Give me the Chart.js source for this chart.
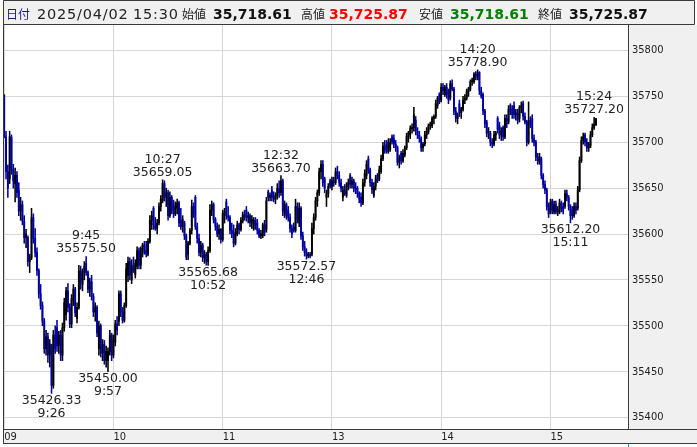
<!DOCTYPE html>
<html>
<head>
<meta charset="utf-8">
<script src="https://cdn.jsdelivr.net/npm/chart.js@4"></script>
<style>
  html, body { margin: 0; padding: 0; background: #fff; }
</style>
</head>
<body>
<canvas id="chart" width="697" height="447"></canvas>
<script>
// Nikkei 1-minute candles, 2025/04/02 (morning 9:00-11:29, afternoon 12:30-15:24, close 15:30)

const tradeDate = "2025/04/02";

const times = [];
function pushMinutes(start, end) {
  for (let m = start; m < end; m++) {
    times.push(Math.floor(m / 60) + ":" + String(m % 60).padStart(2, "0"));
  }
}
pushMinutes(9 * 60, 11 * 60 + 30);
pushMinutes(12 * 60 + 30, 15 * 60 + 25);
times.push("15:30");

const opens = [
  35751, 35706, 35668, 35660, 35705, 35670, 35655, 35664, 35648, 35625,
  35632, 35614, 35596, 35596, 35570, 35574, 35618, 35595, 35580, 35560,
  35535, 35522, 35505, 35475, 35488, 35468, 35478, 35435, 35490, 35498,
  35478, 35490, 35468, 35498, 35512, 35538, 35520, 35502, 35528, 35540,
  35508, 35520, 35560, 35545, 35558, 35568, 35558, 35540, 35548, 35532,
  35515, 35520, 35475, 35500, 35470, 35480, 35462, 35462, 35472, 35490,
  35468, 35482, 35502, 35505, 35535, 35515, 35506, 35522, 35555, 35570,
  35550, 35566, 35556, 35565, 35582, 35566, 35584, 35588, 35582, 35578,
  35592, 35615, 35628, 35610, 35606, 35612, 35630, 35636, 35655, 35640,
  35645, 35620, 35640, 35632, 35622, 35628, 35634, 35615, 35608, 35612,
  35598, 35578, 35590, 35604, 35630, 35640, 35608, 35595, 35580, 35588,
  35574, 35578, 35570, 35582, 35626, 35632, 35616, 35608, 35600, 35605,
  35594, 35622, 35635, 35620, 35618, 35604, 35600, 35590, 35600, 35610,
  35605, 35614, 35621, 35626, 35618, 35620, 35612, 35606, 35615, 35612,
  35604, 35598, 35598, 35610, 35605, 35646, 35640, 35648, 35640, 35638,
  35642, 35650, 35645, 35658, 35622, 35632, 35626, 35618, 35606, 35608,
  35604, 35630, 35612, 35628, 35598, 35586, 35580, 35576, 35578, 35578,
  35606, 35618, 35636, 35645, 35668, 35676, 35660, 35640, 35644, 35658,
  35652, 35658, 35656, 35668, 35664, 35656, 35640, 35648, 35642, 35652,
  35664, 35654, 35658, 35650, 35650, 35644, 35640, 35634, 35656, 35664,
  35682, 35670, 35656, 35642, 35652, 35664, 35660, 35668, 35682, 35696,
  35698, 35690, 35692, 35706, 35704, 35698, 35694, 35678, 35688, 35680,
  35686, 35694, 35706, 35708, 35715, 35716, 35724, 35712, 35708, 35704,
  35694, 35698, 35708, 35711, 35718, 35718, 35726, 35728, 35740, 35752,
  35746, 35760, 35752, 35760, 35756, 35748, 35764, 35758, 35734, 35726,
  35742, 35732, 35736, 35746, 35748, 35755, 35758, 35766, 35766, 35774,
  35770, 35776, 35756, 35752, 35734, 35722, 35710, 35710, 35700, 35698,
  35708, 35726, 35718, 35708, 35716, 35706, 35726, 35722, 35740, 35736,
  35740, 35730, 35732, 35726, 35738, 35742, 35728, 35722, 35700, 35724,
  35726, 35704, 35700, 35684, 35678, 35682, 35664, 35654, 35648, 35630,
  35624, 35636, 35624, 35632, 35624, 35624, 35634, 35630, 35630, 35644,
  35640, 35630, 35626, 35620, 35630, 35628, 35648, 35680, 35702, 35708,
  35700, 35694, 35696, 35708, 35716, 35718.61
];

const highs = [
  35752, 35712, 35675, 35712, 35708, 35676, 35672, 35668, 35656, 35640,
  35636, 35620, 35605, 35598, 35578, 35628, 35622, 35606, 35585, 35562,
  35545, 35526, 35508, 35495, 35492, 35485, 35480, 35495, 35500, 35506,
  35494, 35495, 35503, 35530, 35542, 35546, 35524, 35534, 35545, 35542,
  35525, 35566, 35565, 35562, 35570, 35575.5, 35560, 35552, 35555, 35535,
  35525, 35522, 35505, 35502, 35485, 35484, 35478, 35476, 35495, 35492,
  35490, 35506, 35510, 35538, 35538, 35520, 35525, 35568, 35575, 35574,
  35572, 35575, 35572, 35586, 35585, 35586, 35590, 35592, 35592, 35595,
  35620, 35625, 35630, 35618, 35616, 35634, 35642, 35659.05, 35658, 35650,
  35648, 35646, 35642, 35637, 35635, 35638, 35636, 35628, 35620, 35614,
  35600, 35592, 35606, 35637, 35634, 35642, 35612, 35600, 35592, 35590,
  35582, 35580, 35586, 35632, 35636, 35634, 35618, 35612, 35610, 35606,
  35626, 35628, 35638, 35630, 35620, 35612, 35610, 35606, 35614, 35612,
  35618, 35624, 35626, 35630, 35624, 35622, 35620, 35618, 35618, 35616,
  35606, 35604, 35612, 35615, 35640, 35648, 35645, 35652, 35646, 35645,
  35655, 35658, 35663.7, 35660, 35636, 35634, 35630, 35622, 35610, 35612,
  35638, 35634, 35634, 35630, 35602, 35592, 35584, 35580, 35580, 35612,
  35622, 35640, 35648, 35672, 35680, 35680, 35662, 35648, 35655, 35660,
  35662, 35662, 35672, 35674, 35668, 35660, 35652, 35654, 35656, 35660,
  35666, 35662, 35660, 35656, 35652, 35646, 35645, 35660, 35670, 35680,
  35685, 35672, 35660, 35656, 35664, 35666, 35674, 35686, 35700, 35702,
  35702, 35704, 35704, 35708, 35708, 35702, 35696, 35686, 35690, 35692,
  35696, 35710, 35712, 35718, 35720, 35738, 35728, 35716, 35712, 35706,
  35700, 35712, 35716, 35720, 35722, 35728, 35730, 35746, 35750, 35754,
  35764, 35764, 35762, 35764, 35758, 35767, 35768, 35760, 35738, 35732,
  35746, 35738, 35750, 35752, 35758, 35760, 35768, 35770, 35776, 35777,
  35778.9, 35777, 35760, 35754, 35736, 35724, 35716, 35712, 35704, 35712,
  35712, 35728, 35722, 35716, 35718, 35730, 35730, 35740, 35742, 35740,
  35744, 35736, 35736, 35740, 35744, 35745, 35732, 35724, 35744, 35728,
  35730, 35708, 35702, 35688, 35688, 35684, 35666, 35658, 35650, 35634,
  35638, 35638, 35636, 35636, 35630, 35638, 35636, 35634, 35648, 35648,
  35642, 35632, 35630, 35634, 35634, 35652, 35684, 35706, 35710, 35710,
  35704, 35700, 35712, 35720, 35727.2, 35725.87
];

const lows = [
  35705, 35660, 35640, 35655, 35665, 35650, 35635, 35640, 35620, 35615,
  35610, 35590, 35585, 35565, 35558, 35572, 35590, 35575, 35555, 35530,
  35518, 35500, 35470, 35468, 35460, 35455, 35426.33, 35432, 35470, 35472,
  35470, 35462, 35462, 35494, 35506, 35515, 35498, 35498, 35522, 35510,
  35503, 35518, 35540, 35538, 35550, 35555, 35536, 35532, 35528, 35510,
  35505, 35488, 35468, 35466, 35462, 35458, 35455, 35450, 35468, 35462,
  35465, 35478, 35490, 35500, 35510, 35503, 35504, 35520, 35548, 35550,
  35546, 35558, 35552, 35562, 35562, 35562, 35575, 35578, 35575, 35576,
  35590, 35605, 35605, 35604, 35600, 35610, 35625, 35634, 35636, 35630,
  35615, 35618, 35622, 35618, 35620, 35622, 35608, 35605, 35602, 35594,
  35572, 35572, 35588, 35600, 35618, 35605, 35590, 35576, 35575, 35570,
  35568, 35566, 35565.68, 35580, 35620, 35612, 35604, 35597, 35594, 35590,
  35592, 35612, 35616, 35614, 35600, 35596, 35586, 35588, 35598, 35600,
  35603, 35612, 35615, 35614, 35612, 35608, 35606, 35604, 35605, 35600,
  35596, 35595, 35596, 35598, 35602, 35636, 35636, 35636, 35635, 35633,
  35638, 35640, 35642, 35620, 35618, 35616, 35614, 35602, 35596, 35602,
  35602, 35612, 35608, 35594, 35582, 35576, 35572.57, 35574, 35574, 35576,
  35600, 35615, 35630, 35642, 35660, 35652, 35645, 35630, 35640, 35650,
  35648, 35652, 35654, 35660, 35652, 35646, 35636, 35642, 35640, 35648,
  35650, 35650, 35646, 35644, 35640, 35634, 35630, 35632, 35652, 35660,
  35666, 35652, 35644, 35640, 35648, 35656, 35658, 35666, 35680, 35688,
  35688, 35688, 35690, 35698, 35694, 35690, 35675, 35672, 35676, 35678,
  35684, 35692, 35700, 35704, 35710, 35712, 35708, 35704, 35700, 35690,
  35690, 35696, 35704, 35709, 35714, 35716, 35720, 35726, 35737, 35742,
  35744, 35752, 35750, 35748, 35742, 35746, 35756, 35730, 35722, 35720,
  35728, 35726, 35734, 35742, 35746, 35750, 35756, 35762, 35764, 35768,
  35768, 35752, 35748, 35730, 35716, 35706, 35704, 35696, 35694, 35696,
  35702, 35710, 35704, 35702, 35702, 35704, 35716, 35720, 35730, 35726,
  35726, 35724, 35720, 35722, 35732, 35724, 35720, 35696, 35698, 35716,
  35700, 35696, 35680, 35676, 35676, 35660, 35650, 35644, 35626, 35618,
  35622, 35622, 35622, 35622, 35620, 35622, 35624, 35622, 35628, 35636,
  35626, 35612.2, 35616, 35618, 35622, 35626, 35646, 35678, 35698, 35696,
  35690, 35690, 35694, 35706, 35714, 35718.61
];

const closes = [
  35706, 35668, 35650, 35706, 35670, 35658, 35664, 35645, 35625, 35632,
  35614, 35596, 35600, 35570, 35574, 35618, 35595, 35580, 35560, 35535,
  35522, 35505, 35475, 35488, 35468, 35480, 35435, 35490, 35475, 35478,
  35490, 35468, 35498, 35525, 35538, 35520, 35502, 35530, 35540, 35514,
  35520, 35560, 35548, 35558, 35565, 35558, 35540, 35548, 35532, 35515,
  35520, 35492, 35500, 35470, 35480, 35462, 35472, 35472, 35490, 35468,
  35486, 35502, 35495, 35535, 35515, 35506, 35522, 35562, 35570, 35555,
  35566, 35560, 35568, 35582, 35566, 35584, 35588, 35580, 35578, 35592,
  35615, 35620, 35610, 35606, 35612, 35630, 35638, 35655, 35640, 35645,
  35620, 35640, 35626, 35622, 35630, 35634, 35612, 35608, 35616, 35598,
  35575, 35590, 35604, 35630, 35622, 35608, 35595, 35580, 35588, 35574,
  35578, 35570, 35582, 35626, 35632, 35616, 35608, 35600, 35605, 35594,
  35622, 35625, 35620, 35618, 35604, 35600, 35590, 35602, 35610, 35605,
  35615, 35621, 35618, 35618, 35620, 35612, 35616, 35615, 35610, 35604,
  35598, 35600, 35610, 35602, 35636, 35640, 35642, 35640, 35638, 35642,
  35650, 35645, 35658, 35625, 35632, 35620, 35618, 35606, 35600, 35604,
  35630, 35616, 35628, 35598, 35586, 35580, 35576, 35578, 35576, 35606,
  35618, 35636, 35645, 35668, 35676, 35656, 35650, 35644, 35652, 35652,
  35658, 35656, 35668, 35664, 35656, 35650, 35648, 35644, 35652, 35656,
  35654, 35658, 35650, 35648, 35644, 35638, 35634, 35656, 35666, 35676,
  35670, 35656, 35648, 35652, 35660, 35658, 35670, 35682, 35696, 35692,
  35690, 35700, 35700, 35700, 35698, 35694, 35678, 35682, 35680, 35688,
  35694, 35706, 35710, 35715, 35716, 35730, 35712, 35708, 35704, 35694,
  35698, 35708, 35712, 35718, 35720, 35726, 35728, 35742, 35748, 35744,
  35760, 35756, 35760, 35752, 35746, 35764, 35758, 35734, 35726, 35730,
  35732, 35736, 35746, 35748, 35755, 35758, 35766, 35768, 35774, 35772,
  35776, 35756, 35750, 35734, 35720, 35710, 35712, 35700, 35698, 35708,
  35710, 35714, 35708, 35712, 35706, 35726, 35720, 35736, 35734, 35730,
  35730, 35732, 35724, 35738, 35740, 35728, 35722, 35700, 35724, 35720,
  35704, 35700, 35684, 35680, 35684, 35664, 35654, 35648, 35630, 35622,
  35634, 35626, 35632, 35624, 35626, 35634, 35628, 35625, 35644, 35640,
  35630, 35620, 35620, 35630, 35626, 35648, 35680, 35702, 35706, 35700,
  35694, 35698, 35708, 35716, 35720, 35725.87
];

// x axis hour marks and y ticks
const hourTimes = ["9:00", "10:00", "11:00", "13:00", "14:00", "15:00"];
const hourLabels = ["09", "10", "11", "13", "14", "15"];
const yTicks = [35400, 35450, 35500, 35550, 35600, 35650, 35700, 35750, 35800];

// high / low markers
const markTimes = ["9:26", "9:45", "9:57", "10:27", "10:52", "12:32", "12:46", "14:20", "15:11", "15:24"];
const markValues = [35426.33, 35575.50, 35450.00, 35659.05, 35565.68, 35663.70, 35572.57, 35778.90, 35612.20, 35727.20];
const markSides = ["low", "high", "low", "high", "low", "high", "low", "high", "low", "high"];

const UP = "#000000";
const DOWN = "#0000a0";
const candleColors = closes.map((c, i) => (c >= opens[i] ? UP : DOWN));

const LINE = "#3a3a3a";
const PANEL = "#f0f0f0";
const GRID = "#d6d6d6";

function fmt(v) {
  return v.toLocaleString("en-US", { minimumFractionDigits: 2, maximumFractionDigits: 2 });
}

const framePlugin = {
  id: "frame",
  beforeDraw(chart) {
    const ctx = chart.ctx;
    const a = chart.chartArea;
    ctx.save();
    ctx.fillStyle = "#fff";
    ctx.fillRect(0, 0, chart.width, chart.height);
    ctx.fillStyle = PANEL;
    ctx.fillRect(3, 0, 692, 25);
    ctx.fillRect(a.right, a.top, chart.width - a.right, a.bottom - a.top);
    ctx.fillRect(3, a.bottom, chart.width - 3, 14);
    ctx.restore();
  },
  afterDraw(chart) {
    const ctx = chart.ctx;
    const a = chart.chartArea;
    const xs = chart.scales.x;
    const ys = chart.scales.y;
    ctx.save();

    // borders
    ctx.strokeStyle = LINE;
    ctx.lineWidth = 1;
    ctx.beginPath();
    ctx.rect(3.5, 0.5, 691, 24);
    ctx.moveTo(3.5, 24); ctx.lineTo(3.5, a.bottom + 14);
    ctx.moveTo(a.right + 0.5, 24); ctx.lineTo(a.right + 0.5, a.bottom);
    ctx.moveTo(3, a.bottom + 0.5); ctx.lineTo(chart.width, a.bottom + 0.5);
    ctx.moveTo(3, a.bottom + 14.5); ctx.lineTo(chart.width, a.bottom + 14.5);
    ctx.stroke();
    ctx.strokeStyle = "#1aa0d8";
    ctx.beginPath();
    ctx.moveTo(a.right + 0.5, a.bottom + 15); ctx.lineTo(a.right + 0.5, chart.height);
    ctx.stroke();

    // high / low markers
    ctx.font = "12.5px 'DejaVu Sans'";
    ctx.fillStyle = "#222";
    ctx.textAlign = "center";
    markTimes.forEach((t, i) => {
      const x = xs.getPixelForValue(times.indexOf(t));
      const y = ys.getPixelForValue(markValues[i]);
      const val = markValues[i].toFixed(2);
      if (markSides[i] === "high") {
        ctx.textBaseline = "bottom";
        ctx.fillText(val, x, y - 1);
        ctx.fillText(t, x, y - 14);
      } else {
        ctx.textBaseline = "top";
        ctx.fillText(val, x, y + 1);
        ctx.fillText(t, x, y + 14);
      }
    });

    // header line: last bar OHLC
    const last = times.length - 1;
    const cjk = "12px 'Noto Sans CJK JP'";
    const reg = "14.5px 'DejaVu Sans'";
    const bold = "bold 14px 'DejaVu Sans'";
    const parts = [
      ["日付", 6, cjk, "#1c1c80", "0px"],
      [tradeDate, 37, reg, "#222", "0.8px"],
      [times[last], 133, reg, "#222", "0.8px"],
      ["始値", 182, cjk, "#222", "0px"],
      [fmt(opens[last]), 213, bold, "#111", "0px"],
      ["高値", 301, cjk, "#222", "0px"],
      [fmt(highs[last]), 329, bold, "#ff0000", "0px"],
      ["安値", 419, cjk, "#222", "0px"],
      [fmt(lows[last]), 450, bold, "#008000", "0px"],
      ["終値", 538, cjk, "#222", "0px"],
      [fmt(closes[last]), 569, bold, "#111", "0px"]
    ];
    ctx.textAlign = "left";
    ctx.textBaseline = "alphabetic";
    parts.forEach(([text, x, font, color, spacing]) => {
      ctx.font = font;
      ctx.fillStyle = color;
      ctx.letterSpacing = spacing;
      ctx.fillText(text, x, 19);
    });
    ctx.letterSpacing = "0px";
    ctx.restore();
  }
};

const xy = (lo, hi) => times.map((t, i) => ({ x: i, y: [lo[i], hi[i]] }));

new Chart(document.getElementById("chart"), {
  type: "bar",
  data: {
    datasets: [
      {
        label: "wick",
        data: xy(lows, highs),
        backgroundColor: candleColors,
        barThickness: 0.9,
        minBarLength: 1,
        grouped: false
      },
      {
        label: "body",
        data: xy(opens, closes),
        backgroundColor: candleColors,
        barThickness: 1.25,
        minBarLength: 1,
        grouped: false
      }
    ]
  },
  options: {
    responsive: false,
    animation: false,
    devicePixelRatio: 1,
    layout: { padding: { left: 3, top: 25, right: 0, bottom: 0 }, autoPadding: false },
    plugins: { legend: { display: false }, tooltip: { enabled: false } },
    scales: {
      x: {
        type: "linear",
        min: -0.66,
        max: 342.6,
        offset: false,
        afterBuildTicks: (s) => {
          s.ticks = hourTimes.map((t) => ({ value: times.indexOf(t) }));
        },
        afterFit: (s) => { s.height = 18; },
        grid: { color: GRID, drawTicks: false, offset: false },
        border: { display: false },
        ticks: {
          autoSkip: false,
          maxRotation: 0,
          align: "start",
          padding: 2,
          color: "#222",
          font: { family: "'DejaVu Sans Condensed', 'DejaVu Sans'", size: 11 },
          callback: (v, i) => hourLabels[i]
        }
      },
      y: {
        position: "right",
        min: 35387.5,
        max: 35827.8,
        afterBuildTicks: (s) => {
          s.ticks = yTicks.map((v) => ({ value: v }));
        },
        afterFit: (s) => { s.width = 69; },
        grid: { color: GRID, drawTicks: false },
        border: { display: false },
        ticks: {
          padding: 4,
          color: "#222",
          font: { family: "'DejaVu Sans Condensed', 'DejaVu Sans'", size: 11 },
          callback: (v) => String(v)
        }
      }
    }
  },
  plugins: [framePlugin]
});
</script>
</body>
</html>
